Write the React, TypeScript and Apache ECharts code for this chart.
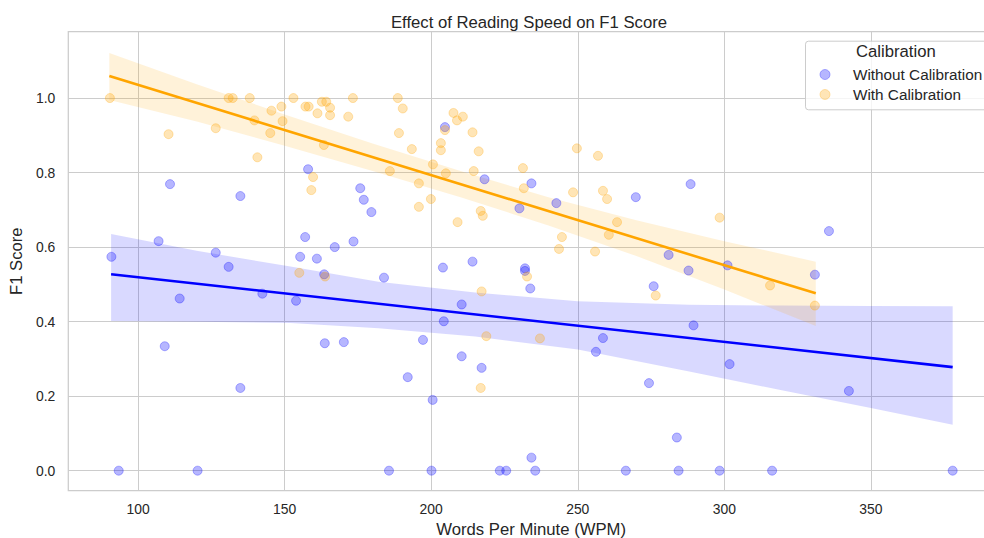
import React, { useEffect, useRef } from "react";
import * as echarts from "echarts";

// ---------- data ----------
const xTicks = [100, 150, 200, 250, 300, 350];
const yTicks = [0, 0.2, 0.4, 0.6, 0.8, 1.0];

const seriesNames = ["Without Calibration", "With Calibration"];

const withoutCalibration: [number, number][] = [
  [90.9, 0.574], [93.4, 0], [107.0, 0.616], [109.1, 0.334], [110.9, 0.769],
  [114.2, 0.462], [120.3, 0], [126.5, 0.585], [130.9, 0.547], [134.9, 0.737],
  [134.9, 0.222], [142.4, 0.475], [153.9, 0.456], [155.3, 0.574], [157.0, 0.627],
  [158.0, 0.809], [161.0, 0.569], [163.5, 0.527], [163.7, 0.342], [167.1, 0.600],
  [170.2, 0.345], [173.5, 0.615], [175.8, 0.758], [177.0, 0.727], [179.6, 0.694],
  [183.9, 0.518], [185.6, 0], [192.0, 0.251], [197.2, 0.351], [200.1, 0],
  [200.5, 0.190], [204.0, 0.545], [204.3, 0.401], [204.7, 0.922], [210.4, 0.446],
  [210.4, 0.307], [214.1, 0.561], [217.2, 0.276], [218.2, 0.782], [223.4, 0],
  [225.6, 0], [230.1, 0.704], [232.0, 0.543], [232.0, 0.536], [233.8, 0.489],
  [234.2, 0.771], [234.2, 0.035], [235.5, 0], [242.7, 0.718], [256.2, 0.319],
  [258.6, 0.356], [266.4, 0], [269.8, 0.734], [274.3, 0.235], [275.9, 0.495],
  [281.0, 0.579], [283.8, 0.089], [284.4, 0], [287.8, 0.537], [288.5, 0.769],
  [289.5, 0.390], [298.4, 0], [301.1, 0.551], [301.8, 0.286], [316.3, 0],
  [330.9, 0.526], [335.7, 0.643], [342.5, 0.214], [377.9, 0],
];

const withCalibration: [number, number][] = [
  [90.4, 1.0], [110.4, 0.903], [126.5, 0.919], [130.9, 1.0], [132.3, 1.0],
  [138.1, 1.0], [139.7, 0.940], [140.7, 0.841], [145.1, 0.906], [145.5, 0.966],
  [148.9, 0.977], [149.3, 0.938], [153.0, 1.0], [155.0, 0.531], [157.1, 0.977],
  [158.2, 0.977], [159.1, 0.753], [159.7, 0.788], [161.2, 0.959], [162.7, 0.990],
  [163.4, 0.874], [163.8, 0.521], [164.2, 0.990], [165.5, 0.974], [165.5, 0.954],
  [171.7, 0.950], [173.3, 1.0], [185.9, 0.804], [188.6, 1.0], [189.0, 0.906],
  [190.3, 0.972], [193.4, 0.863], [195.8, 0.771], [195.8, 0.708], [199.9, 0.729],
  [200.6, 0.822], [203.3, 0.879], [203.3, 0.860], [204.7, 0.914], [205.0, 0.798],
  [207.6, 0.960], [208.8, 0.940], [209.0, 0.667], [210.8, 0.950], [214.1, 0.908],
  [214.5, 0.804], [216.2, 0.857], [216.9, 0.697], [216.9, 0.222], [217.2, 0.481],
  [217.6, 0.684], [218.8, 0.361], [231.3, 0.812], [231.6, 0.758], [232.7, 0.521],
  [237.1, 0.355], [243.6, 0.595], [244.6, 0.627], [248.4, 0.747], [249.7, 0.865],
  [255.9, 0.588], [256.9, 0.845], [258.6, 0.751], [260.0, 0.729], [260.6, 0.633],
  [263.4, 0.667], [276.6, 0.470], [298.4, 0.679], [315.6, 0.497], [330.9, 0.443],
];

// regression fits
const withoutFit: [number, number][] = [[90.8, 0.527], [377.9, 0.278]];
const withFit: [number, number][] = [[90.2, 1.059], [331.2, 0.476]];

// confidence bands
const withoutBandX = [90.8, 120, 152, 182, 215, 250, 288, 320, 350, 377.9];
const withoutBandUpper = [0.635, 0.59, 0.548, 0.507, 0.478, 0.455, 0.445, 0.443, 0.442, 0.441];
const withoutBandLower = [0.402, 0.400, 0.396, 0.382, 0.360, 0.325, 0.266, 0.215, 0.168, 0.123];

const withBandX = [90.2, 120, 150, 180, 210, 240, 270, 300, 331.2];
const withBandUpper = [1.121, 1.037, 0.956, 0.878, 0.804, 0.734, 0.672, 0.616, 0.561];
const withBandLower = [0.995, 0.937, 0.872, 0.804, 0.734, 0.658, 0.576, 0.486, 0.388];

// ---------- styling ----------
const FONT = "'Liberation Sans', Arial, sans-serif";
const TEXT = "#262626";
const GRID = "#cccccc";

function bandSeries(name: string, xs: number[], lo: number[], hi: number[], fill: string) {
  return {
    type: "custom",
    name: name + " band",
    silent: true,
    clip: true,
    data: xs.map((x, i) => [x, lo[i], hi[i]]),
    encode: { x: 0, y: [1, 2] },
    renderItem: (params: any, api: any) => {
      if (params.dataIndex !== 0) return null;
      const pts: number[][] = [];
      for (let i = 0; i < xs.length; i++) pts.push(api.coord([xs[i], hi[i]]));
      for (let i = xs.length - 1; i >= 0; i--) pts.push(api.coord([xs[i], lo[i]]));
      return { type: "polygon", shape: { points: pts }, style: { fill } };
    },
    z: 2,
  };
}

export default function App() {
  const ref = useRef<HTMLDivElement>(null);

  useEffect(() => {
    if (!ref.current) return;
    const chart = echarts.init(ref.current, null, { renderer: "svg" });
    const blue = "rgba(0,0,255,0.36)";
    const orange = "rgba(255,165,0,0.36)";
    chart.setOption({
      animation: false,
      backgroundColor: "#ffffff",
      textStyle: { fontFamily: FONT, color: TEXT },
      title: {
        text: "Effect of Reading Speed on F1 Score",
        left: 524,
        textAlign: "center",
        top: 9,
        textStyle: { fontFamily: FONT, fontSize: 16.7, fontWeight: "normal", color: TEXT },
      },
      grid: {
        left: 68.3,
        right: -10,
        top: 31.7,
        bottom: 47.3,
        show: true,
        borderColor: GRID,
        borderWidth: 1.25,
        backgroundColor: "transparent",
        containLabel: false,
        outerBoundsMode: "none",
      },
      xAxis: {
        type: "value",
        min: 76.2,
        max: 392,
        name: "Words Per Minute (WPM)",
        nameLocation: "middle",
        nameGap: 27,
        nameTextStyle: { fontFamily: FONT, fontSize: 16.7, lineHeight: 17, color: TEXT },
        axisLine: { show: false },
        axisTick: { show: false, customValues: xTicks },
        axisLabel: {
          customValues: xTicks,
          fontFamily: FONT,
          fontSize: 13.9,
          color: TEXT,
          margin: 11,
        },
        splitLine: { show: true, lineStyle: { color: GRID, width: 1 } },
      },
      yAxis: {
        type: "value",
        min: -0.0537,
        max: 1.178,
        name: "F1 Score",
        nameLocation: "middle",
        nameGap: 37,
        nameRotate: 90,
        nameTextStyle: { fontFamily: FONT, fontSize: 16.7, color: TEXT },
        axisLine: { show: false },
        axisTick: { show: false, customValues: yTicks },
        axisLabel: {
          customValues: yTicks,
          fontFamily: FONT,
          fontSize: 13.9,
          color: TEXT,
          margin: 13,
          formatter: (v: number) => v.toFixed(1),
        },
        splitLine: { show: true, lineStyle: { color: GRID, width: 1 } },
      },
      legend: {
        show: true,
        orient: "vertical",
        left: 814.5,
        top: 62,
        itemGap: 5,
        itemWidth: 46,
        itemHeight: 10,
        icon: "circle",
        z: 60,
        textStyle: { fontFamily: FONT, fontSize: 15.3, color: TEXT },
        data: [
          { name: seriesNames[0], itemStyle: { color: blue, borderColor: blue, borderWidth: 1 } },
          { name: seriesNames[1], itemStyle: { color: orange, borderColor: orange, borderWidth: 1 } },
        ],
      },
      graphic: [
        {
          type: "rect",
          left: 805,
          top: 40.7,
          shape: { width: 200, height: 68.6, r: 3 },
          style: { fill: "rgba(255,255,255,0.8)", stroke: GRID, lineWidth: 1 },
          z: 50,
          silent: true,
        },
        {
          type: "text",
          left: 856,
          top: 43,
          style: { text: "Calibration", fontFamily: FONT, fontSize: 16.7, fill: TEXT },
          z: 51,
          silent: true,
        },
      ],
      series: [
        bandSeries(seriesNames[0], withoutBandX, withoutBandLower, withoutBandUpper, "rgba(0,0,255,0.15)"),
        {
          type: "scatter",
          name: seriesNames[0],
          data: withoutCalibration,
          symbol: "circle",
          symbolSize: 9,
          itemStyle: { color: blue, borderColor: blue, borderWidth: 1 },
          z: 3,
        },
        {
          type: "line",
          name: seriesNames[0] + " fit",
          data: withoutFit,
          showSymbol: false,
          lineStyle: { color: "#0000ff", width: 2.6 },
          silent: true,
          z: 4,
        },
        bandSeries(seriesNames[1], withBandX, withBandLower, withBandUpper, "rgba(255,165,0,0.15)"),
        {
          type: "scatter",
          name: seriesNames[1],
          data: withCalibration,
          symbol: "circle",
          symbolSize: 9,
          itemStyle: { color: orange, borderColor: orange, borderWidth: 1 },
          z: 3,
        },
        {
          type: "line",
          name: seriesNames[1] + " fit",
          data: withFit,
          showSymbol: false,
          lineStyle: { color: "#ffa500", width: 2.6 },
          silent: true,
          z: 4,
        },
      ],
    });
    return () => chart.dispose();
  }, []);

  return (
    <div
      ref={ref}
      style={{ position: "fixed", left: 0, top: 0, width: 984, height: 538, background: "#fff" }}
    />
  );
}
